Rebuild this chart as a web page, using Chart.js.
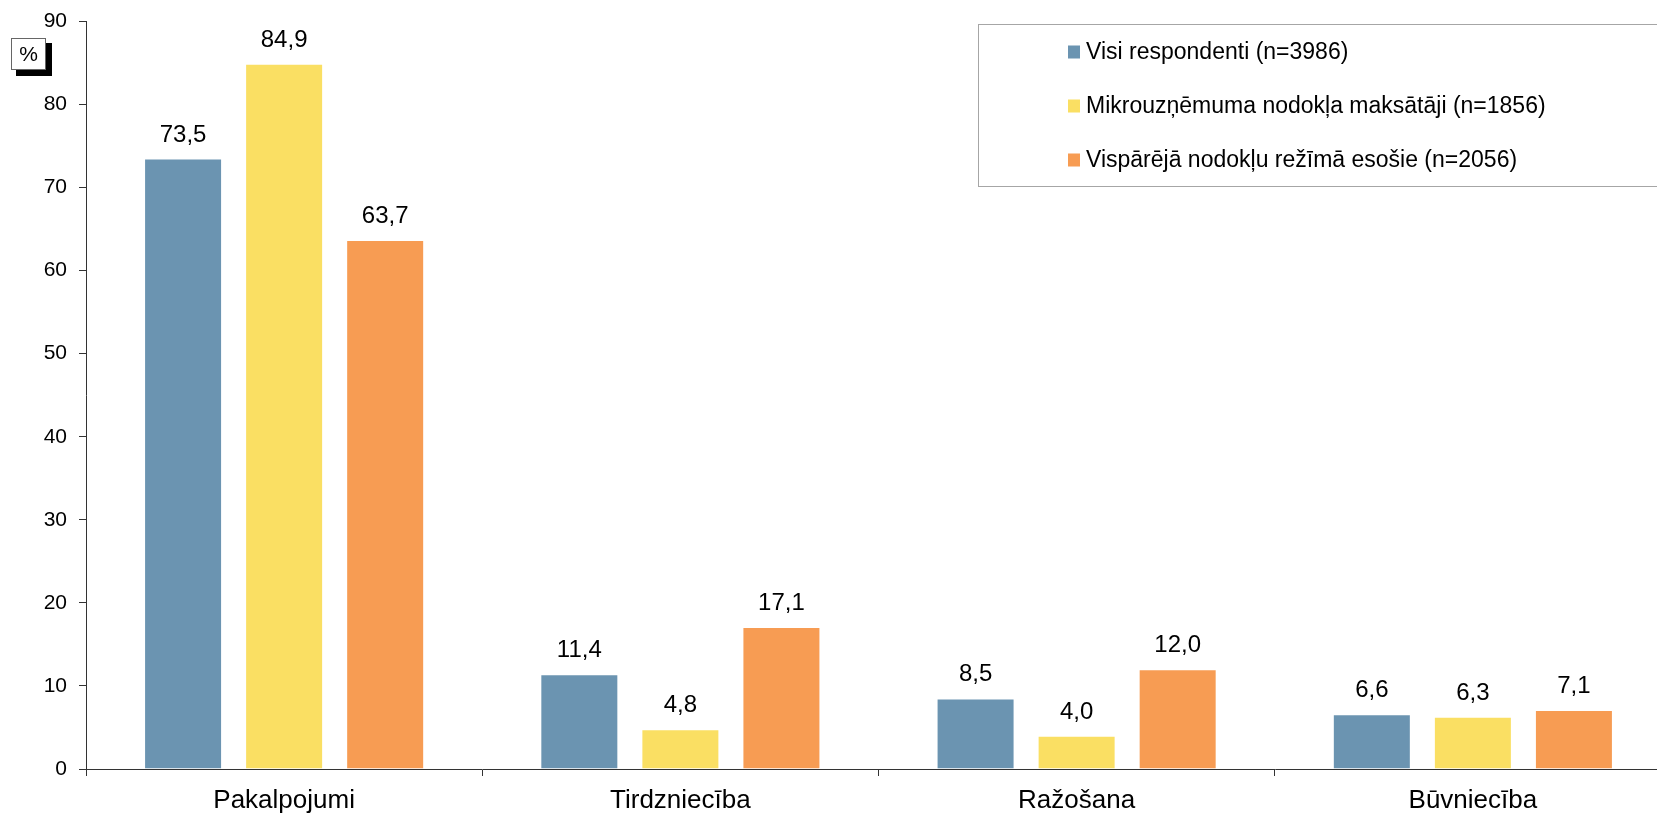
<!DOCTYPE html>
<html>
<head>
<meta charset="utf-8">
<script src="https://cdn.jsdelivr.net/npm/chart.js@4/dist/chart.umd.min.js"></script>
<style>
  html, body { margin: 0; padding: 0; background: #fff; overflow: hidden; }
  #wrap { position: relative; width: 1671px; height: 813px; }
</style>
</head>
<body>
<div id="wrap"><canvas id="chart"></canvas></div>
<script>
const categories = ['Pakalpojumi', 'Tirdzniecība', 'Ražošana', 'Būvniecība'];
const seriesNames = [
  'Visi respondenti (n=3986)',
  'Mikrouzņēmuma nodokļa maksātāji (n=1856)',
  'Vispārējā nodokļu režīmā esošie (n=2056)'
];
const allValues = [73.5, 11.4, 8.5, 6.6];
const microValues = [84.9, 4.8, 4.0, 6.3];
const generalValues = [63.7, 17.1, 12.0, 7.1];
const colors = ['#6b94b1', '#fadf63', '#f79c53'];
const yTicks = [0, 10, 20, 30, 40, 50, 60, 70, 80, 90];

const FONT = '"Liberation Sans", Arial, sans-serif';

// value labels above the bars, decimal comma
const valueLabels = {
  id: 'valueLabels',
  afterDatasetsDraw(chart) {
    const ctx = chart.ctx;
    ctx.save();
    ctx.font = '24px ' + FONT;
    ctx.fillStyle = '#000';
    ctx.textAlign = 'center';
    ctx.textBaseline = 'alphabetic';
    chart.data.datasets.forEach((ds, i) => {
      chart.getDatasetMeta(i).data.forEach((bar, j) => {
        ctx.fillText(ds.data[j].toFixed(1).replace('.', ','), bar.x, bar.y - 17);
      });
    });
    ctx.restore();
  }
};

// boxed legend and the "%" unit badge
const decorations = {
  id: 'decorations',
  afterDraw(chart) {
    const ctx = chart.ctx;
    ctx.save();
    // legend box
    ctx.fillStyle = '#fff';
    ctx.fillRect(978.5, 24.5, 700, 162);
    ctx.strokeStyle = '#a6a6a6';
    ctx.lineWidth = 1;
    ctx.strokeRect(978.5, 24.5, 700, 162);
    ctx.font = '23px ' + FONT;
    ctx.textBaseline = 'middle';
    ctx.textAlign = 'left';
    chart.data.datasets.forEach((ds, i) => {
      const cy = 51.5 + i * 54;
      ctx.fillStyle = ds.backgroundColor;
      ctx.fillRect(1068, cy - 6, 12, 13);
      ctx.fillStyle = '#000';
      ctx.fillText(ds.label, 1086, cy + 1);
    });
    // % badge
    ctx.fillStyle = '#000';
    ctx.fillRect(16, 43, 36, 33);
    ctx.fillStyle = '#fff';
    ctx.fillRect(11, 38, 35, 32);
    ctx.strokeStyle = '#666';
    ctx.strokeRect(11.5, 38.5, 34, 31);
    ctx.fillStyle = '#000';
    ctx.font = '21px ' + FONT;
    ctx.textAlign = 'center';
    ctx.fillText('%', 28.5, 55);
    ctx.restore();
  }
};

const chart = new Chart(document.getElementById('chart'), {
  type: 'bar',
  data: {
    labels: categories,
    datasets: [
      { label: seriesNames[0], data: allValues, backgroundColor: colors[0] },
      { label: seriesNames[1], data: microValues, backgroundColor: colors[1] },
      { label: seriesNames[2], data: generalValues, backgroundColor: colors[2] }
    ].map(d => Object.assign(d, {
      categoryPercentage: 0.765,
      barPercentage: 0.772,
      borderWidth: 1,
      borderColor: 'rgba(255,255,255,0.45)'
    }))
  },
  options: {
    responsive: true,
    maintainAspectRatio: false,
    animation: false,
    layout: { padding: { top: 16, right: 0, bottom: 0, left: 0 } },
    plugins: {
      legend: { display: false },
      tooltip: { enabled: false }
    },
    scales: {
      x: {
        grid: { drawOnChartArea: false, tickLength: 7, color: '#333', offset: true },
        border: { color: '#333', width: 1 },
        ticks: { color: '#000', padding: 9, font: { family: FONT, size: 26 } },
        afterFit(scale) { scale.height = 44; }
      },
      y: {
        min: 0,
        max: 90,
        afterBuildTicks(scale) { scale.ticks = yTicks.map(v => ({ value: v })); },
        grid: { drawOnChartArea: false, tickLength: 7, color: '#333' },
        border: { color: '#333', width: 1 },
        ticks: { color: '#000', padding: 12, font: { family: FONT, size: 21, lineHeight: 0.9 } },
        afterFit(scale) { scale.width = 86; }
      }
    }
  },
  plugins: [valueLabels, decorations]
});
</script>
</body>
</html>
